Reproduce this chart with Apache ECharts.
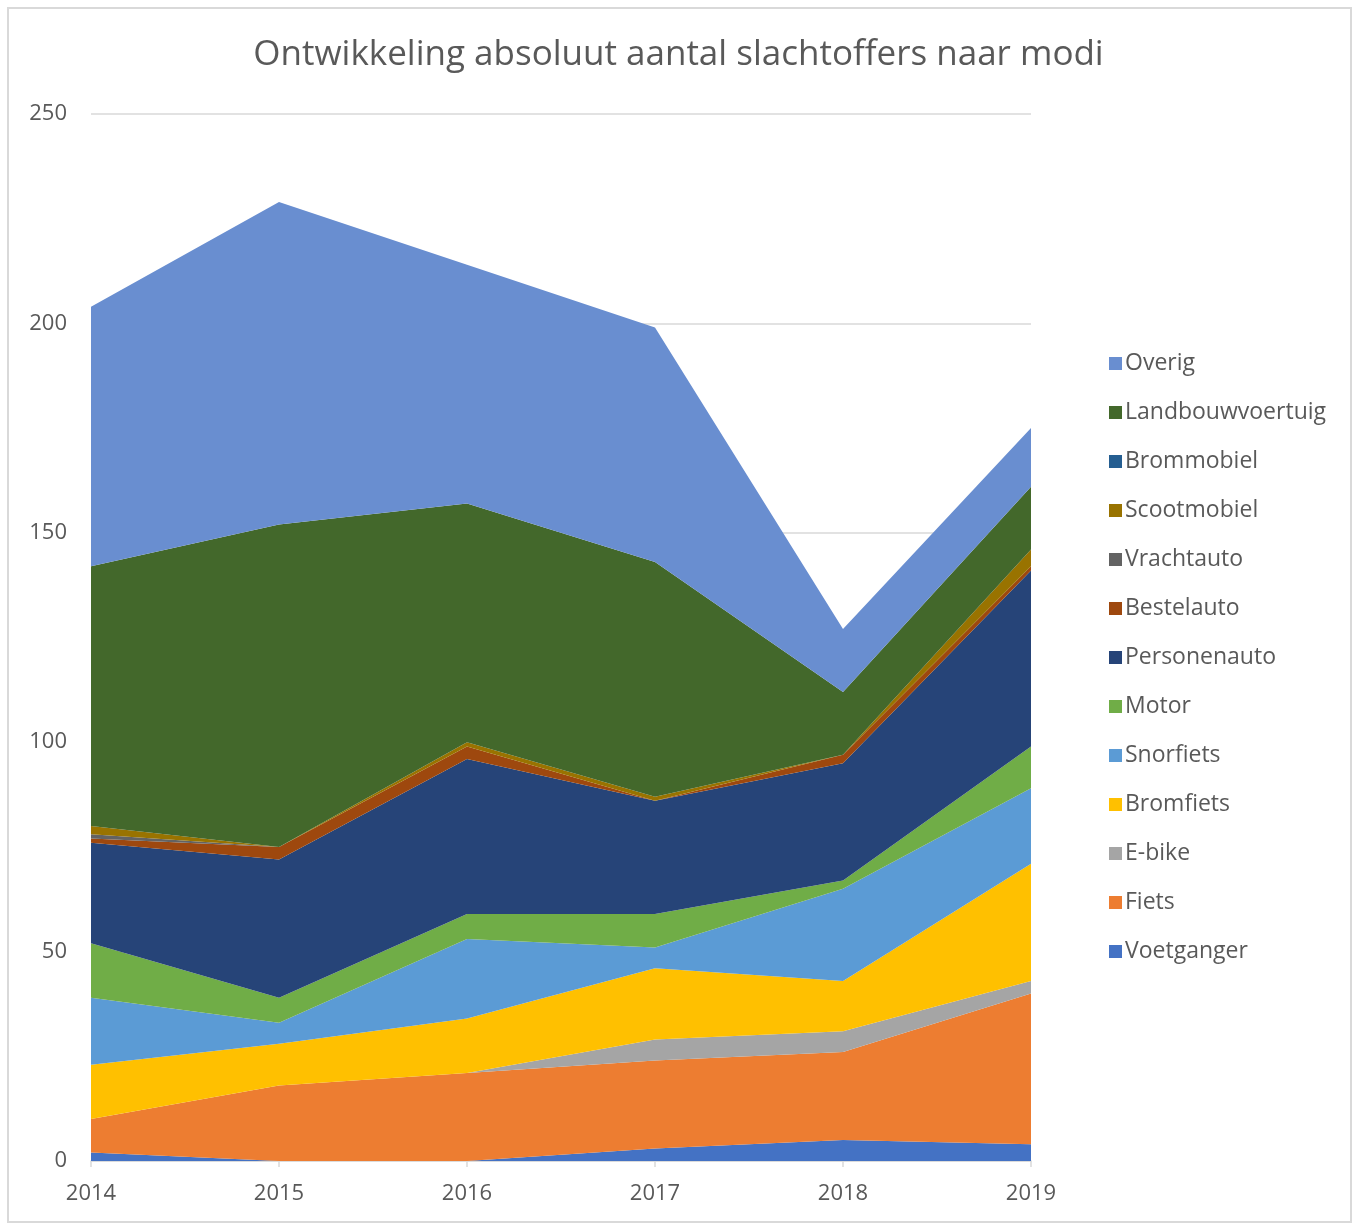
<!DOCTYPE html>
<html>
<head>
<meta charset="utf-8">
<title>Ontwikkeling absoluut aantal slachtoffers naar modi</title>
<script src="https://cdn.jsdelivr.net/npm/echarts@6/dist/echarts.min.js"></script>
<style>
  html, body { margin: 0; padding: 0; background: #ffffff; }
  #chart { width: 1357px; height: 1225px; }
</style>
</head>
<body>
<div id="chart"></div>
<script>
// Years on the x axis
const years = ['2014', '2015', '2016', '2017', '2018', '2019'];

// Victims per mode of transport, stacked from bottom to top
const voetganger       = [2, 0, 0, 3, 5, 4];
const fiets            = [8, 18, 21, 21, 21, 36];
const eBike            = [0, 0, 0, 5, 5, 3];
const bromfiets        = [13, 10, 13, 17, 12, 28];
const snorfiets        = [16, 5, 19, 5, 22, 18];
const motor            = [13, 6, 6, 8, 2, 10];
const personenauto     = [24, 33, 37, 27, 28, 42];
const bestelauto       = [1, 3, 3, 0, 2, 1];
const vrachtauto       = [1, 0, 0, 0, 0, 0];
const scootmobiel      = [2, 0, 1, 1, 0, 4];
const brommobiel       = [0, 0, 0, 0, 0, 0];
const landbouwvoertuig = [62, 77, 57, 56, 15, 15];
const overig           = [62, 77, 57, 56, 15, 14];

// Y axis ticks
const yTicks = [0, 50, 100, 150, 200, 250];

const seriesDefs = [
  { name: 'Voetganger',       data: voetganger,       color: '#4472C4' },
  { name: 'Fiets',            data: fiets,            color: '#ED7D31' },
  { name: 'E-bike',           data: eBike,            color: '#A5A5A5' },
  { name: 'Bromfiets',        data: bromfiets,        color: '#FFC000' },
  { name: 'Snorfiets',        data: snorfiets,        color: '#5B9BD5' },
  { name: 'Motor',            data: motor,            color: '#70AD47' },
  { name: 'Personenauto',     data: personenauto,     color: '#264478' },
  { name: 'Bestelauto',       data: bestelauto,       color: '#9E480E' },
  { name: 'Vrachtauto',       data: vrachtauto,       color: '#636363' },
  { name: 'Scootmobiel',      data: scootmobiel,      color: '#997300' },
  { name: 'Brommobiel',       data: brommobiel,       color: '#255E91' },
  { name: 'Landbouwvoertuig', data: landbouwvoertuig, color: '#43682B' },
  { name: 'Overig',           data: overig,           color: '#698ED0' }
];

const FONT = '"Open Sans", "Noto Sans", sans-serif';
const TEXT_COLOR = '#595959';

const chart = echarts.init(document.getElementById('chart'), null, { renderer: 'canvas' });

chart.setOption({
  animation: false,
  backgroundColor: '#ffffff',
  graphic: [{
    type: 'rect',
    shape: { x: 8, y: 8, width: 1343, height: 1214 },
    style: { fill: 'none', stroke: '#d9d9d9', lineWidth: 2 },
    silent: true
  }],
  title: {
    text: 'Ontwikkeling absoluut aantal slachtoffers naar modi',
    left: 'center',
    top: 33,
    textStyle: { fontFamily: FONT, fontSize: 35, fontWeight: 'normal', color: TEXT_COLOR }
  },
  legend: {
    orient: 'vertical',
    left: 1104,
    top: 347,
    itemWidth: 13,
    itemHeight: 13,
    itemGap: 26,
    icon: 'rect',
    data: seriesDefs.map(s => s.name).reverse(),
    textStyle: { fontFamily: FONT, fontSize: 23, color: TEXT_COLOR, lineHeight: 23, padding: [0, 0, 0, -2] }
  },
  grid: { left: 91, right: 326, top: 114, bottom: 64, containLabel: false },
  xAxis: {
    type: 'category',
    data: years,
    boundaryGap: false,
    axisLine: { lineStyle: { color: '#d9d9d9', width: 1.5 } },
    axisTick: { show: true, length: 6, lineStyle: { color: '#d9d9d9', width: 1.5 } },
    axisLabel: { fontFamily: FONT, fontSize: 22, color: TEXT_COLOR, margin: 22 }
  },
  yAxis: {
    type: 'value',
    min: yTicks[0],
    max: yTicks[yTicks.length - 1],
    interval: yTicks[1] - yTicks[0],
    axisLine: { show: false },
    axisTick: { show: false },
    splitLine: { lineStyle: { color: '#d9d9d9', width: 1.5 } },
    axisLabel: { fontFamily: FONT, fontSize: 22, color: TEXT_COLOR, margin: 24 }
  },
  series: seriesDefs.map(s => ({
    name: s.name,
    type: 'line',
    stack: 'total',
    data: s.data,
    symbol: 'none',
    color: s.color,
    lineStyle: { width: 0 },
    areaStyle: { color: s.color, opacity: 1 },
    itemStyle: { color: s.color }
  }))
});
</script>
</body>
</html>
